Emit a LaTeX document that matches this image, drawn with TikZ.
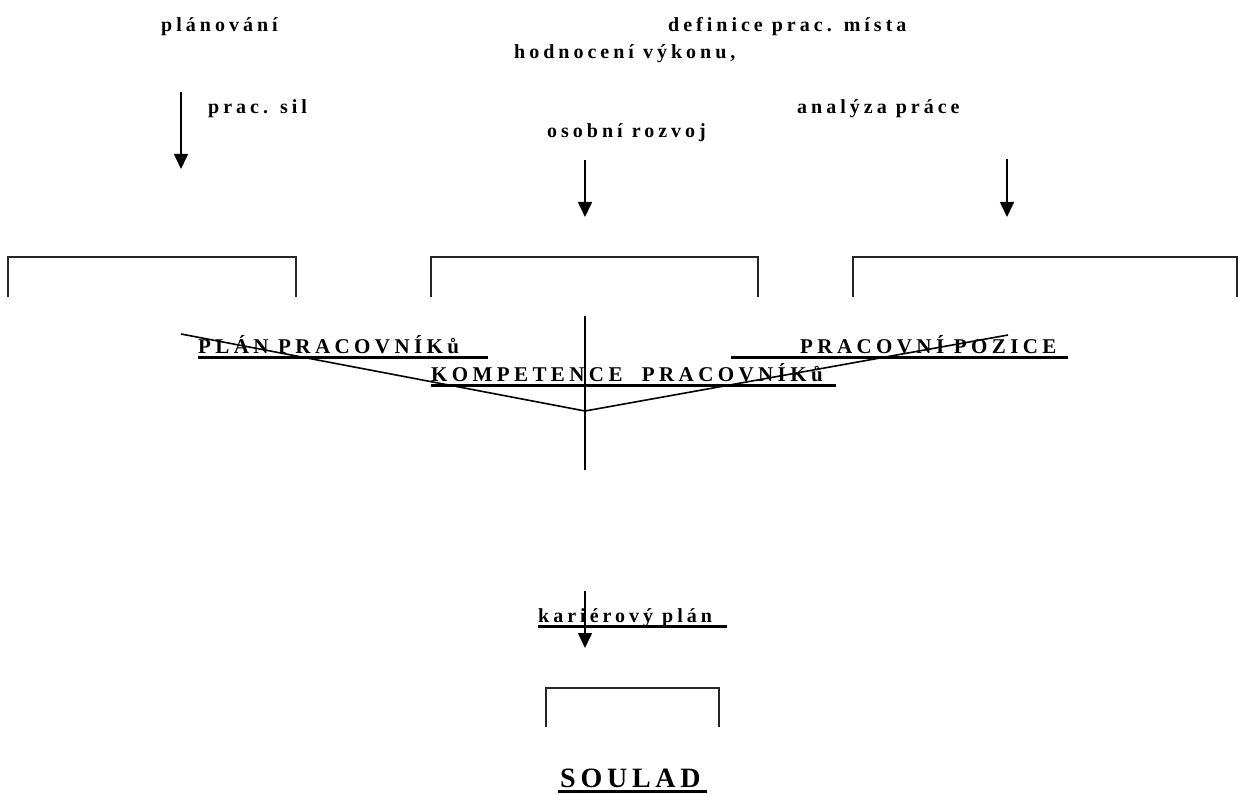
\documentclass[tikz,border=0pt]{standalone}
\usepackage{fontspec}
\setmainfont{Liberation Serif}
\usetikzlibrary{arrows.meta}
\newfontfamily\lblfont[LetterSpace=20]{Liberation Serif Bold}
\newfontfamily\capsfont[LetterSpace=21]{Liberation Serif Bold}
\newfontfamily\bigfont[LetterSpace=17]{Liberation Serif Bold}
\begin{document}
\begin{tikzpicture}[x=1pt,y=-1pt,
  lbl/.style={anchor=base west,inner sep=0pt,font=\fontsize{20}{22}\lblfont},
  caps/.style={anchor=base west,inner sep=0pt,font=\fontsize{21}{23}\capsfont},
  big/.style={anchor=base west,inner sep=0pt,font=\fontsize{28}{30}\bigfont},
  arr/.style={line width=1.6pt,-{Triangle[width=14pt,length=15pt]}},
  brk/.style={line width=1.6pt,black!85},
  ln/.style={line width=1.6pt},
  uline/.style={line width=3pt}]
\useasboundingbox[fill=white] (0,0) rectangle (1238,794);

% top labels
\node[lbl] (plan1) at (161,32) {plánování};
\node[lbl] (def) at (668,32) {definice prac. místa};
\node[lbl] (hod) at (514,59) {hodnocení výkonu,};
\node[lbl] (sil) at (208,114) {prac. sil};
\node[lbl] (ana) at (797,114) {analýza práce};
\node[lbl] (oso) at (547,138) {osobní rozvoj};

% arrows
\coordinate (a1s) at (181,92);  \coordinate (a1e) at (181,169);
\coordinate (a2s) at (585,160); \coordinate (a2e) at (585,217);
\coordinate (a3s) at (1007,159);\coordinate (a3e) at (1007,217);
\draw[arr] (a1s) -- (a1e);
\draw[arr] (a2s) -- (a2e);
\draw[arr] (a3s) -- (a3e);

% brackets
\draw[brk] (8,297) -- (8,257) -- (296,257) -- (296,297);
\draw[brk] (431,297) -- (431,257) -- (758,257) -- (758,297);
\draw[brk] (853,297) -- (853,257) -- (1237,257) -- (1237,297);

% caps labels
\node[caps] (pp) at (198,353) {PLÁN PRACOVNÍKů};
\draw[uline] (198,357) -- (488,357);
\node[caps] (poz) at (800,353) {PRACOVNÍ POZICE};
\draw[uline] (731,357) -- (1068,357);
\node[caps] (komp) at (431,381) {KOMPETENCE\ \ PRACOVNÍKů};
\draw[uline] (431,385) -- (836,385);

% V and vertical line
\coordinate (vl) at (181,334);
\coordinate (vb) at (585,411);
\coordinate (vr) at (1008,335);
\coordinate (vt) at (585,316);
\coordinate (vd) at (585,470);
\draw[ln] (vl) -- (vb) -- (vr);
\draw[ln] (vt) -- (vd);

% bottom
\node[lbl] (kar) at (538,622) {kariérový plán};
\draw[uline] (538,626) -- (727,626);
\coordinate (a4s) at (585,591); \coordinate (a4e) at (585,648);
\draw[arr] (a4s) -- (a4e);
\draw[brk] (546,727) -- (546,688) -- (719,688) -- (719,727);
\node[big] (soul) at (560,787) {SOULAD};
\draw[uline] (558,791) -- (707,791);
\end{tikzpicture}
\end{document}
